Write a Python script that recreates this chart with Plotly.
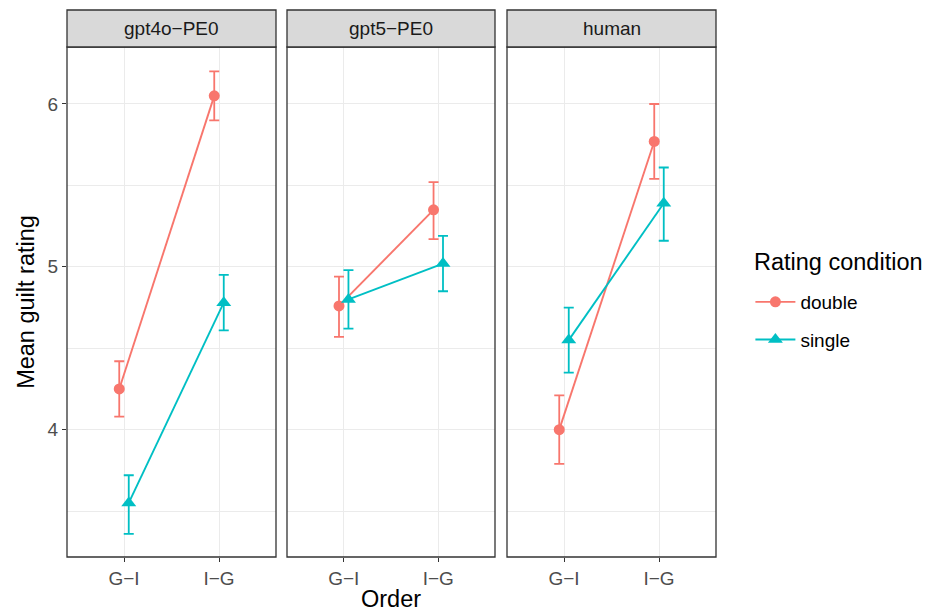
import plotly.graph_objects as go
from plotly.subplots import make_subplots

panels = ["gpt4o\u2212PE0", "gpt5\u2212PE0", "human"]
orders = ["G\u2212I", "I\u2212G"]
conditions = ["double", "single"]

double_mean = {"gpt4o\u2212PE0": [4.25, 6.05], "gpt5\u2212PE0": [4.76, 5.35], "human": [4.00, 5.77]}
double_lo = {"gpt4o\u2212PE0": [4.08, 5.90], "gpt5\u2212PE0": [4.57, 5.17], "human": [3.79, 5.54]}
double_hi = {"gpt4o\u2212PE0": [4.42, 6.20], "gpt5\u2212PE0": [4.94, 5.52], "human": [4.21, 6.00]}
single_mean = {"gpt4o\u2212PE0": [3.55, 4.78], "gpt5\u2212PE0": [4.80, 5.02], "human": [4.55, 5.39]}
single_lo = {"gpt4o\u2212PE0": [3.36, 4.61], "gpt5\u2212PE0": [4.62, 4.85], "human": [4.35, 5.16]}
single_hi = {"gpt4o\u2212PE0": [3.72, 4.95], "gpt5\u2212PE0": [4.98, 5.19], "human": [4.75, 5.61]}

colors = {"double": "#F8766D", "single": "#00BFC4"}
symbols = {"double": "circle", "single": "triangle-up"}
msize = {"double": 11, "single": 13}
dodge = {"double": -0.05, "single": 0.05}
series = {
    "double": (double_mean, double_lo, double_hi),
    "single": (single_mean, single_lo, single_hi),
}

FONT = "Liberation Sans, Arial, sans-serif"
SMALL = 19
BIG = 23.5
W, H = 929, 614
L, R, T, B = 67, 929 - 716, 47, 614 - 557
pw = W - L - R
ph = H - T - B

fig = make_subplots(rows=1, cols=3, shared_yaxes=True)
doms = [(0, 209), (220, 428), (440, 649)]

for pi, p in enumerate(panels):
    for c in conditions:
        m, lo, hi = series[c]
        xs = [i + 1 + dodge[c] for i in range(len(orders))]
        ys = m[p]
        fig.add_trace(
            go.Scatter(
                x=xs, y=ys, mode="lines+markers", name=c, legendgroup=c,
                showlegend=(pi == 0),
                line=dict(color=colors[c], width=1.9),
                marker=dict(color=colors[c], symbol=symbols[c], size=msize[c]),
                error_y=dict(type="data", symmetric=False,
                             array=[h - v for h, v in zip(hi[p], ys)],
                             arrayminus=[v - l for v, l in zip(ys, lo[p])],
                             color=colors[c], thickness=1.8, width=5),
            ),
            row=1, col=pi + 1,
        )

strip_h = 37 / ph
for pi, p in enumerate(panels):
    xa = "x" if pi == 0 else f"x{pi+1}"
    ya = "y" if pi == 0 else f"y{pi+1}"
    d0, d1 = doms[pi]
    fig.update_xaxes(domain=[d0 / pw, d1 / pw], row=1, col=pi + 1)
    fig.add_shape(type="rect", xref=f"{xa} domain", yref=f"{ya} domain",
                  x0=0, x1=1, y0=0, y1=1, line=dict(color="#333333", width=1.3),
                  fillcolor="rgba(0,0,0,0)", layer="above")
    fig.add_shape(type="rect", xref=f"{xa} domain", yref=f"{ya} domain",
                  x0=0, x1=1, y0=1, y1=1 + strip_h, line=dict(color="#333333", width=1.3),
                  fillcolor="#D9D9D9", layer="above")
    fig.add_annotation(xref=f"{xa} domain", yref=f"{ya} domain", x=0.5, y=1 + strip_h / 2,
                       text=p, showarrow=False, font=dict(family=FONT, size=SMALL, color="#1A1A1A"),
                       yanchor="middle")

fig.update_xaxes(range=[0.4, 2.6], tickvals=[1, 2], ticktext=orders,
                 showgrid=True, gridcolor="#EBEBEB", gridwidth=1.3,
                 ticks="outside", ticklen=4, tickcolor="#333333",
                 tickfont=dict(family=FONT, size=SMALL, color="#4D4D4D"),
                 zeroline=False, showline=False, automargin=False)
fig.update_yaxes(range=[3.218, 6.35], tickvals=[4, 5, 6],
                 showgrid=True, gridcolor="#EBEBEB", gridwidth=1.3,
                 minor=dict(tickvals=[3.5, 4.5, 5.5], showgrid=True, gridcolor="#EBEBEB", gridwidth=0.65, ticks=""),
                 zeroline=False, showline=False, automargin=False)
fig.update_yaxes(ticks="outside", ticklen=4, tickcolor="#333333",
                 tickfont=dict(family=FONT, size=SMALL, color="#4D4D4D"),
                 title=dict(text="Mean guilt rating", font=dict(family=FONT, size=BIG, color="#000000"), standoff=6),
                 row=1, col=1)
fig.update_xaxes(title=dict(text="Order", font=dict(family=FONT, size=BIG, color="#000000"), standoff=2),
                 row=1, col=2)

fig.add_annotation(xref="paper", yref="paper", x=(752 - L) / pw, y=(557 - 262) / ph,
                   xanchor="left", yanchor="middle", showarrow=False,
                   text="Rating condition", font=dict(family=FONT, size=BIG, color="#000000"))

fig.update_layout(
    width=W, height=H,
    margin=dict(l=L, r=R, t=T, b=B),
    paper_bgcolor="white", plot_bgcolor="white",
    font=dict(family=FONT),
    legend=dict(
        x=1.053, xanchor="left", y=(557 - 283) / ph, yanchor="top",
        font=dict(family=FONT, size=SMALL, color="#000000"),
        tracegroupgap=10, itemwidth=40,
    ),
)

fig.write_html("out.html")
